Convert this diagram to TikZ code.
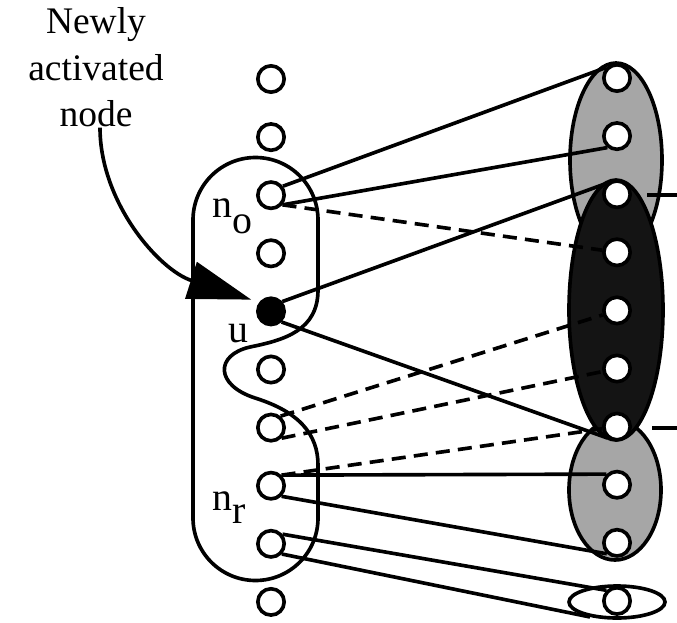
\documentclass[tikz,border=0pt]{standalone}
\usepackage{fontspec}
\setmainfont{Liberation Serif}
\usetikzlibrary{positioning,shapes.geometric,arrows.meta}

\begin{document}
\begin{tikzpicture}[
    x=0.03cm, y=-0.03cm,
    site/.style={circle, draw, fill=white, line width=3.1pt, minimum size=0.79cm, inner sep=0pt},
    group/.style={ellipse, draw, line width=3.1pt, inner sep=0pt},
    link/.style={line width=3.1pt},
    weak/.style={line width=3.1pt, dash pattern=on 12pt off 7pt},
    tag/.style={font=\fontsize{34}{40}\selectfont, inner sep=0pt, anchor=base west},
    node distance=1.743cm, on grid
  ]
    \useasboundingbox (0,0) rectangle (677,623);

    % Region on the left: n_o, u and n_r, with a notch
    \draw[link] (193,220) arc[start angle=180, end angle=360, radius=62.5]
      -- (318,290) .. controls (318,330) and (285,340) .. (250,347)
      .. controls (215,355) and (215,385) .. (255,398)
      .. controls (300,412) and (318,435) .. (318,465)
      -- (318,518) arc[start angle=0, end angle=180, radius=62.5] -- cycle;

    % Groups on the right
    \node[group, fill=black!35, minimum width=2.76cm, minimum height=5.82cm] (upper) at (616,160) {};
    \node[group, fill=black!35, minimum width=2.76cm, minimum height=4.2cm] (lower) at (615,490) {};
    \node[group, fill=black!92, minimum width=2.82cm, minimum height=7.8cm] (core) at (616,310) {};
    \node[group, minimum width=2.88cm, minimum height=0.96cm] (pair) at (617,602) {};

    % Left column
    \node[site] (l1) at (271,79) {};
    \node[site, below=of l1] (l2) {};
    \node[site, below=of l2] (l3) {};
    \node[site, below=of l3] (l4) {};
    \node[site, below=of l4, fill=black] (u) {};
    \node[site, below=of u] (l6) {};
    \node[site, below=of l6] (l7) {};
    \node[site, below=of l7] (l8) {};
    \node[site, below=of l8] (l9) {};
    \node[site, below=of l9] (l10) {};

    % Right column
    \node[site] (r1) at (617,78) {};
    \node[site, below=of r1] (r2) {};
    \node[site, below=of r2] (r3) {};
    \node[site, below=of r3] (r4) {};
    \node[site, below=of r4] (r5) {};
    \node[site, below=of r5] (r6) {};
    \node[site, below=of r6] (r7) {};
    \node[site, below=of r7] (r8) {};
    \node[site, below=of r8] (r9) {};
    \node[site, below=of r9] (r10) {};

    % Labels
    \node[tag] (no) at (212,218) {n\raisebox{-0.45cm}{o}};
    \node[tag] (lu) at (228,342) {u};
    \node[tag] (nr) at (212,510) {n\raisebox{-0.4cm}{r}};

    % Solid links
    \draw[link] (l3.37) -- (r1.135);
    \draw[link] (l3.-40) -- (r2.-130);
    \draw[link] (u.41) -- (r3.133);
    \draw[link] (u.-45) -- (r7.-131);
    \draw[link] (l8.45) -- (r8.135);
    \draw[link] (l8.-45) -- (r9.-133);
    \draw[link] (l9.40) -- (r10.135);
    \draw[link] (l9.-43) -- (pair.209);

    % Dashed links
    \draw[weak] (l3.-40) -- (r4);
    \draw[weak] (l7.50) -- (r5);
    \draw[weak] (l7.-45) -- (r6);
    \draw[weak] (l8.45) -- (r7);

    % Links leaving to the right
    \coordinate (cutA) at (647,195);
    \coordinate (endA) at (677,195);
    \coordinate (cutB) at (652,428);
    \coordinate (endB) at (677,428);
    \draw[link] (cutA) -- (endA);
    \draw[link] (cutB) -- (endB);

    % Caption and pointer to u
    \node[font=\fontsize{32}{40}\selectfont, align=center, inner sep=0pt, anchor=north] (note) at (96,7) {Newly\\activated\\node};
    \draw[link, shorten >=0.25cm, -{Triangle[length=1.9cm, width=1.14cm]}]
      ([xshift=0.12cm]note.south) .. controls +(0,75) and +(-100,-32) .. (u.142);
\end{tikzpicture}
\end{document}
